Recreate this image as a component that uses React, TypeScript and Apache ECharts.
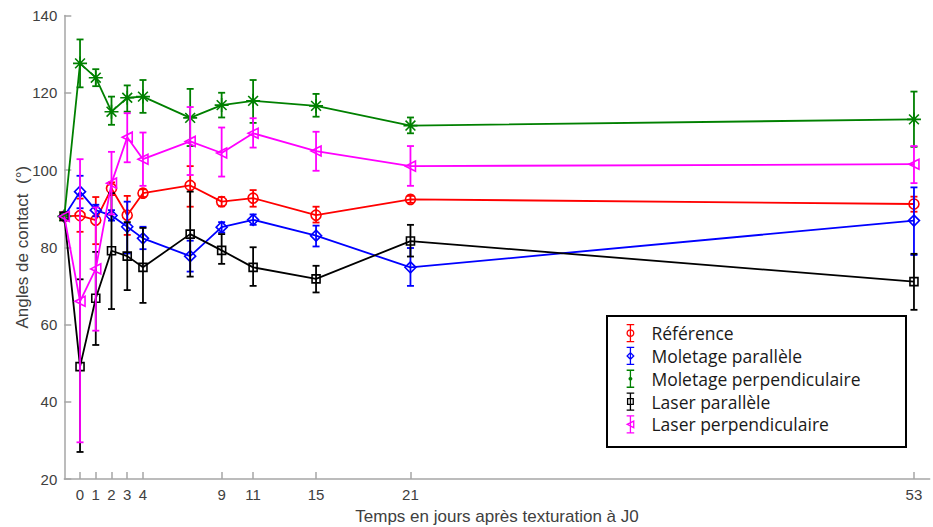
import React, { useEffect, useRef } from "react";
import * as echarts from "echarts";

// ---- Data ----
const days = [-1, 0, 1, 2, 3, 4, 7, 9, 11, 15, 21, 53];
const xTickValues = [0, 1, 2, 3, 4, 9, 11, 15, 21, 53];

const referenceVal = [88, 88.2, 87.0, 95.2, 88.3, 94.0, 96.0, 91.8, 92.7, 88.3, 92.4, 91.2];
const referenceLow = [88, 84.0, 80.8, 93.5, 83.2, 93.0, 90.5, 90.6, 90.5, 86.4, 91.5, 89.2];
const referenceHigh = [88, 92.6, 93.0, 96.8, 93.3, 95.0, 101.0, 93.0, 94.8, 90.5, 93.3, 93.1];

const molParVal = [88, 94.4, 89.6, 88.2, 85.3, 82.3, 77.7, 85.2, 87.1, 83.0, 74.8, 86.9];
const molParLow = [88, 90.1, 88.0, 86.9, 78.4, 79.5, 73.7, 83.8, 85.8, 80.2, 70.0, 78.0];
const molParHigh = [88, 98.5, 91.0, 89.6, 91.8, 85.3, 81.7, 86.5, 88.5, 85.6, 79.8, 95.5];

const molPerpVal = [88, 127.6, 123.9, 115.1, 118.7, 119.0, 113.5, 116.8, 117.9, 116.6, 111.5, 113.1];
const molPerpLow = [88, 121.4, 121.7, 111.7, 115.1, 114.8, 106.2, 113.6, 112.2, 113.8, 109.5, 106.0];
const molPerpHigh = [88, 133.8, 126.1, 119.0, 121.9, 123.3, 121.0, 120.0, 123.3, 119.7, 113.6, 120.3];

const laserParVal = [88, 49.1, 66.8, 79.1, 77.7, 74.8, 83.4, 79.2, 74.8, 71.8, 81.6, 71.1];
const laserParLow = [88, 27.0, 54.7, 64.0, 68.9, 65.6, 72.4, 75.7, 70.0, 68.3, 77.6, 63.8];
const laserParHigh = [88, 71.7, 78.8, 94.0, 86.5, 85.0, 94.4, 83.4, 80.0, 75.2, 85.8, 78.3];

const laserPerpVal = [88, 66.0, 74.4, 96.6, 108.5, 102.8, 107.4, 104.4, 109.5, 104.9, 101.0, 101.5];
const laserPerpLow = [88, 29.5, 58.4, 88.5, 102.0, 95.9, 98.7, 98.3, 105.8, 99.8, 95.9, 96.6];
const laserPerpHigh = [88, 102.8, 90.3, 104.7, 114.7, 109.7, 116.3, 111.0, 113.4, 109.9, 106.2, 106.2];

const seriesNames = [
  "Référence",
  "Moletage parallèle",
  "Moletage perpendiculaire",
  "Laser parallèle",
  "Laser perpendiculaire",
];
const seriesColors = ["#ff0000", "#0000ff", "#008000", "#000000", "#ff00ff"];

const AXIS_FONT = "'Liberation Sans', Arial, sans-serif";
const LEGEND_FONT = "'Open Sans', Lato, sans-serif";

const STAR = "path://M0,5L10,5M5,0L5,10M1.5,1.5L8.5,8.5M1.5,8.5L8.5,1.5";
const TRI_LEFT = "path://M0,5L9,0L9,10Z";

const BAR = "M0,0L8,0M4,0L4,18M0,18L8,18";
const legendIcons = [
  "path://" + BAR + "M7.5,9A3.5,3.5,0,1,1,0.5,9A3.5,3.5,0,1,1,7.5,9",
  "path://" + BAR + "M4,5.5L7.5,9L4,12.5L0.5,9Z",
  "path://" + BAR + "M2,9L6,9M4,7L4,11M2.6,7.6L5.4,10.4M2.6,10.4L5.4,7.6",
  "path://" + BAR + "M1,6L7,6L7,12L1,12Z",
  "path://" + BAR + "M0.5,9L7.5,5.5L7.5,12.5Z",
];

export default function App() {
  const ref = useRef<HTMLDivElement>(null);

  useEffect(() => {
    if (!ref.current) return;
    const chart = echarts.init(ref.current, undefined, { renderer: "svg" });

    const groups = [
      { v: referenceVal, lo: referenceLow, hi: referenceHigh, symbol: "circle", size: 10 },
      { v: molParVal, lo: molParLow, hi: molParHigh, symbol: "diamond", size: 11 },
      { v: molPerpVal, lo: molPerpLow, hi: molPerpHigh, symbol: STAR, size: 14 },
      { v: laserParVal, lo: laserParLow, hi: laserParHigh, symbol: "rect", size: 8 },
      { v: laserPerpVal, lo: laserPerpLow, hi: laserPerpHigh, symbol: TRI_LEFT, size: 10 },
    ];

    const series: any[] = [];
    groups.forEach((g, i) => {
      const color = seriesColors[i];
      const errData = days
        .map((d, k) => [d, g.lo[k], g.hi[k]])
        .filter((r) => r[1] !== r[2]);
      series.push({
        name: seriesNames[i] + " (err)",
        type: "custom",
        encode: { x: 0, y: [1, 2] },
        data: errData,
        z: 2 + i,
        renderItem: (params: any, api: any) => {
          const x = api.value(0);
          const top = api.coord([x, api.value(2)]);
          const bot = api.coord([x, api.value(1)]);
          const hw = 3.5;
          const st = { stroke: color, lineWidth: 1.8 };
          return {
            type: "group",
            children: [
              { type: "line", shape: { x1: top[0], y1: top[1], x2: bot[0], y2: bot[1] }, style: st },
              { type: "line", shape: { x1: top[0] - hw, y1: top[1], x2: top[0] + hw, y2: top[1] }, style: st },
              { type: "line", shape: { x1: bot[0] - hw, y1: bot[1], x2: bot[0] + hw, y2: bot[1] }, style: st },
            ],
          };
        },
      });
      series.push({
        name: seriesNames[i],
        type: "line",
        z: 2 + i,
        data: days.map((d, k) => [d, g.v[k]]),
        symbol: g.symbol,
        symbolSize: g.size,
        showAllSymbol: true,
        lineStyle: { color, width: 1.8 },
        itemStyle: { color: "rgba(0,0,0,0)", borderColor: color, borderWidth: 1.6 },
      });
    });

    const option: any = {
      animation: false,
      backgroundColor: "#ffffff",
      grid: {
        left: 64.3,
        right: 3.3,
        top: 15.5,
        bottom: 48,
        containLabel: false,
        outerBoundsMode: "none",
      },
      xAxis: {
        type: "value",
        min: -1,
        max: 54,
        name: "Temps en jours après texturation à J0",
        nameLocation: "middle",
        nameGap: 29,
        nameTextStyle: { fontSize: 17, color: "#404040", fontFamily: AXIS_FONT },
        splitLine: { show: false },
        axisLine: { onZero: false, lineStyle: { color: "#a6a6a6", width: 1.5 } },
        axisTick: { inside: true, length: 7, customValues: xTickValues, lineStyle: { color: "#a6a6a6", width: 1.5 } },
        axisLabel: { customValues: xTickValues, fontSize: 15, color: "#404040", margin: 8, fontFamily: AXIS_FONT },
      },
      yAxis: {
        type: "value",
        min: 20,
        max: 140,
        interval: 20,
        name: "Angles de contact  (°)",
        nameLocation: "middle",
        nameGap: 33,
        nameMoveOverlap: false,
        nameTextStyle: { fontSize: 17, color: "#404040", fontFamily: AXIS_FONT },
        splitLine: { show: false },
        axisLine: { show: true, onZero: false, lineStyle: { color: "#a6a6a6", width: 1.5 } },
        axisTick: { show: true, inside: true, length: 7, lineStyle: { color: "#a6a6a6", width: 1.5 } },
        axisLabel: { fontSize: 15, color: "#404040", margin: 7, fontFamily: AXIS_FONT },
      },
      legend: {
        orient: "vertical",
        left: 626,
        top: 324,
        padding: 0,
        itemWidth: 32,
        itemHeight: 17,
        itemGap: 4.5,
        selectedMode: false,
        textStyle: { fontSize: 17.5, color: "#1a1a1a", fontFamily: LEGEND_FONT, lineHeight: 18 },
        data: seriesNames.map((n, i) => ({
          name: n,
          icon: legendIcons[i],
          itemStyle: { color: "rgba(0,0,0,0)", borderColor: seriesColors[i], borderWidth: 1.3 },
        })),
      },
      graphic: [
        {
          type: "rect",
          shape: { x: 607, y: 316, width: 299, height: 131 },
          style: { fill: "none", stroke: "#000000", lineWidth: 2 },
          z: 1,
        },
      ],
      series,
    };

    chart.setOption(option);
    return () => chart.dispose();
  }, []);

  return (
    <div
      ref={ref}
      style={{ position: "absolute", left: 0, top: 0, width: 933, height: 527, background: "#fff" }}
    />
  );
}
